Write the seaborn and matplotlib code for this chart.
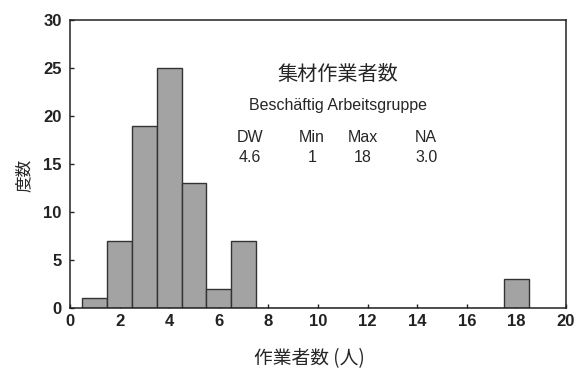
import matplotlib
matplotlib.use("Agg")
import matplotlib.pyplot as plt
import seaborn as sns
import pandas as pd

# Crew size (workers) and how often each occurred
crew_size = [1, 2, 3, 4, 5, 6, 7, 18]
frequency = [1, 7, 19, 25, 13, 2, 7, 3]

stat_names = ["DW", "Min", "Max", "NA"]
stat_values = ["4.6", "1", "18", "3.0"]

x_ticks = list(range(0, 21, 2))
y_ticks = list(range(0, 31, 5))

sns.set_theme(style="ticks")
plt.rcParams["font.family"] = ["Liberation Sans", "Noto Sans CJK JP", "DejaVu Sans"]
cjk = ["Noto Sans CJK JP", "Liberation Sans"]

df = pd.DataFrame({"size": crew_size, "count": frequency})

fig = plt.figure(figsize=(5.77, 3.73), dpi=100)
ax = fig.add_axes([0.1213, 0.174, 0.8597, 0.772])

sns.histplot(data=df, x="size", weights="count", discrete=True, ax=ax,
             color="#a3a3a3", edgecolor="#333333", linewidth=1.0, alpha=1.0)

ax.set_xlim(0, 20)
ax.set_ylim(0, 30)
ax.set_xticks(x_ticks)
ax.set_yticks(y_ticks)
ax.set_xticklabels([str(t) for t in x_ticks], fontweight="bold", fontsize=12)
ax.set_yticklabels([str(t) for t in y_ticks], fontweight="bold", fontsize=12)
ax.tick_params(direction="in", length=3, width=1, colors="#222222", pad=4)
ax.tick_params(axis="y", pad=6)
for s in ax.spines.values():
    s.set_visible(True)
    s.set_color("#222222")
    s.set_linewidth(1.1)

ax.set_xlabel("作業者数 (人)", fontsize=13.5, family=cjk, va="center")
ax.xaxis.set_label_coords(0.482, -0.174)
ax.set_ylabel("度数", fontsize=12, family=cjk, va="center")
ax.yaxis.set_label_coords(-0.092, 0.46)

# Summary block
ax.text(0.54, 0.81, "集材作業者数", transform=ax.transAxes, ha="center",
        va="center", fontsize=14.5, family=cjk)
ax.text(0.54, 0.705, "Beschäftig Arbeitsgruppe", transform=ax.transAxes,
        ha="center", va="center", fontsize=11.5)
col_x = [0.363, 0.488, 0.591, 0.718]
for cx, name, val in zip(col_x, stat_names, stat_values):
    ax.text(cx, 0.594, name, transform=ax.transAxes, ha="center", va="center", fontsize=11.5)
    ax.text(cx, 0.524, val, transform=ax.transAxes, ha="center", va="center", fontsize=11.5)

fig.savefig("out.png", dpi=100)
